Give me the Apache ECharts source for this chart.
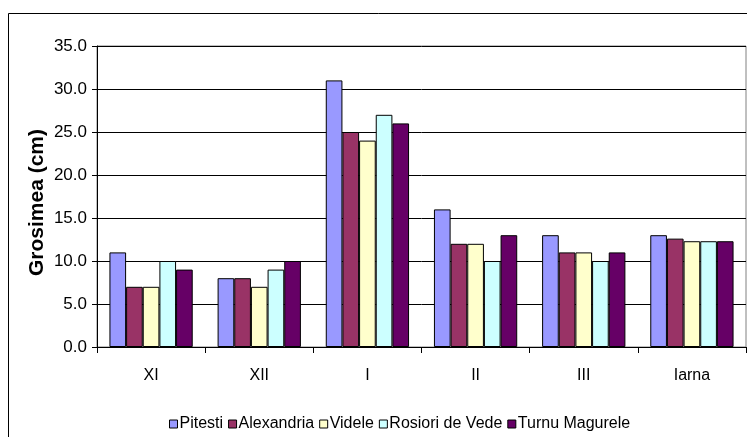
<!DOCTYPE html>
<html>
<head>
<meta charset="utf-8">
<script src="https://cdn.jsdelivr.net/npm/echarts@6/dist/echarts.min.js"></script>
<style>
  html, body { margin: 0; padding: 0; background: #fff; }
  #chart { width: 747px; height: 437px; }
</style>
</head>
<body>
<div id="chart"></div>
<script>
// Snow depth per month and winter average, by station
const categories = ['XI', 'XII', 'I', 'II', 'III', 'Iarna'];
const pitesti      = [11, 8, 31, 16, 13, 13.0];
const alexandria   = [7, 8, 25, 12, 11, 12.6];
const videle       = [7, 7, 24, 12, 11, 12.3];
const rosiori      = [10, 9, 27, 10, 10, 12.3];
const turnu        = [9, 10, 26, 13, 11, 12.3];
const yTicks = [0, 5, 10, 15, 20, 25, 30, 35];

const stations = [
  { name: 'Pitesti', data: pitesti, color: '#9999FF' },
  { name: 'Alexandria', data: alexandria, color: '#993366' },
  { name: 'Videle', data: videle, color: '#FFFFCC' },
  { name: 'Rosiori de Vede', data: rosiori, color: '#CCFFFF' },
  { name: 'Turnu Magurele', data: turnu, color: '#660066' }
];

const font = 'Liberation Sans, Arial, sans-serif';
const chart = echarts.init(document.getElementById('chart'), null, { renderer: 'canvas' });

chart.setOption({
  animation: false,
  backgroundColor: '#fff',
  textStyle: { fontFamily: font, color: '#000' },
  graphic: [{
    type: 'rect',
    shape: { x: 8.5, y: 13.5, width: 800, height: 500 },
    style: { fill: 'none', stroke: '#000', lineWidth: 1 },
    silent: true, z: 0
  }],
  grid: {
    left: 97, top: 46, right: 1, bottom: 90,
    show: true, borderColor: '#808080', borderWidth: 1, backgroundColor: 'transparent'
  },
  legend: {
    bottom: 5, left: 169, padding: 0,
    icon: 'rect', itemWidth: 8, itemHeight: 8, itemGap: 5,
    textStyle: { fontFamily: font, fontSize: 16, color: '#000', padding: [0, 0, 0, -3] },
    data: stations.map(s => ({ name: s.name, itemStyle: { borderColor: '#000', borderWidth: 1 } }))
  },
  xAxis: {
    type: 'category',
    data: categories,
    axisLine: { lineStyle: { color: '#000', width: 1 } },
    axisTick: { show: true, alignWithLabel: false, length: 6, lineStyle: { color: '#000' } },
    axisLabel: { fontFamily: font, fontSize: 16, color: '#000', margin: 21 }
  },
  yAxis: {
    type: 'value',
    min: yTicks[0], max: yTicks[yTicks.length - 1], interval: 5,
    name: 'Grosimea (cm)',
    nameLocation: 'middle', nameGap: 49, nameRotate: 90, nameMoveOverlap: false,
    nameTextStyle: { fontFamily: font, fontSize: 21, fontWeight: 'bold', color: '#000', padding: [0, 12, 0, 0] },
    axisLine: { show: true, lineStyle: { color: '#000', width: 1 } },
    axisTick: { show: true, length: 5, lineStyle: { color: '#000' } },
    axisLabel: { fontFamily: font, fontSize: 17, color: '#000', margin: 10, formatter: v => v.toFixed(1) },
    splitLine: { show: true, lineStyle: { color: '#000', width: 1 } }
  },
  series: stations.map(s => ({
    name: s.name,
    type: 'bar',
    data: s.data,
    barGap: '0%',
    barCategoryGap: '23%',
    itemStyle: { color: s.color, borderColor: '#000', borderWidth: 1 }
  }))
});
</script>
</body>
</html>
